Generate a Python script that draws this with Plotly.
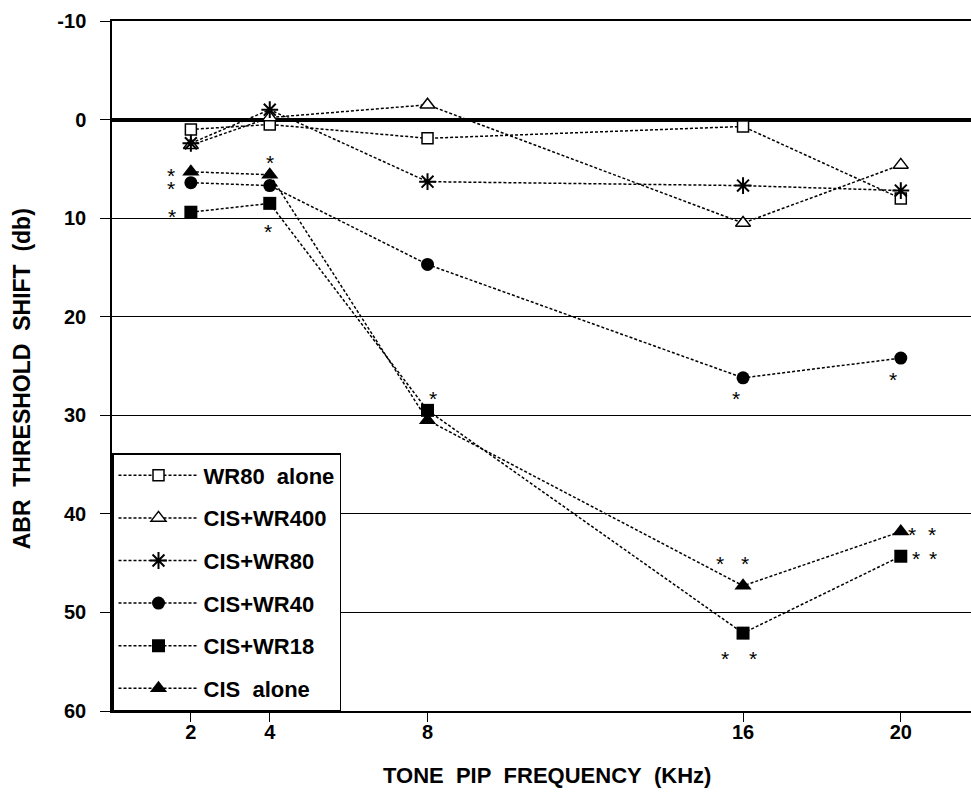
import plotly.graph_objects as go

# ---------------- data ----------------
freq_khz = [2, 4, 8, 16, 20]

wr80_alone = [1.0, 0.5, 1.9, 0.7, 8.0]
cis_wr400 = [2.6, -0.2, -1.5, 10.5, 4.6]
cis_wr80 = [2.4, -1.0, 6.3, 6.7, 7.2]
cis_wr40 = [6.4, 6.7, 14.7, 26.2, 24.2]
cis_wr18 = [9.4, 8.5, 29.5, 52.1, 44.3]
cis_alone = [5.3, 5.6, 30.5, 47.3, 41.8]

series_names = ["WR80\u00a0\u00a0alone", "CIS+WR400", "CIS+WR80",
                "CIS+WR40", "CIS+WR18", "CIS\u00a0\u00a0alone"]

x_tick_vals = [2, 4, 8, 16, 20]
x_tick_text = ["2", "4", "8", "16", "20"]
y_tick_vals = [-10, 0, 10, 20, 30, 40, 50, 60]
y_tick_text = ["-10", "0", "10", "20", "30", "40", "50", "60"]

x_title = "TONE\u00a0\u00a0PIP\u00a0\u00a0FREQUENCY\u00a0\u00a0(KHz)"
y_title = "ABR\u00a0\u00a0THRESHOLD\u00a0\u00a0SHIFT\u00a0\u00a0(db)"

# significance asterisks (frequency position, dB position)
sig_x = [1.50, 1.50, 1.53, 4.01, 3.96, 8.13, 15.82, 19.81,
         15.42, 16.05, 15.53, 16.26, 20.28, 20.80, 20.39, 20.82]
sig_y = [5.2, 6.5, 9.3, 3.8, 10.8, 27.8, 27.8, 25.9,
         44.5, 44.5, 54.2, 54.2, 41.6, 41.6, 44.0, 44.0]

# ---------------- styling ----------------
FONT = "Liberation Sans, Arial, Helvetica, sans-serif"
LINE = dict(color="black", width=1.5, dash="3px,2px")

marker_styles = [
    dict(symbol="square", size=11, color="white", line=dict(color="black", width=1.5)),
    dict(symbol="triangle-up", size=13, color="white", line=dict(color="black", width=1.5)),
    dict(symbol="asterisk-open", size=14, color="black", line=dict(color="black", width=2)),
    dict(symbol="circle", size=13, color="black", line=dict(color="black", width=0)),
    dict(symbol="square", size=13, color="black", line=dict(color="black", width=0)),
    dict(symbol="triangle-up", size=15, color="black", line=dict(color="black", width=0)),
]

all_series = [wr80_alone, cis_wr400, cis_wr80, cis_wr40, cis_wr18, cis_alone]

fig = go.Figure()
for name, vals, mk in zip(series_names, all_series, marker_styles):
    fig.add_trace(go.Scatter(
        x=freq_khz, y=vals, name=name, legendgroup=name,
        mode="lines+markers", line=LINE, marker=mk,
    ))

for sx, sy in zip(sig_x, sig_y):
    fig.add_annotation(x=sx, y=sy, text="*", showarrow=False,
                       font=dict(family=FONT, size=21, color="black"),
                       xanchor="center", yanchor="middle", yshift=-5)

# axis titles
fig.add_annotation(xref="paper", yref="paper", x=0.5064, y=0, yshift=-64,
                   text=x_title, showarrow=False,
                   xanchor="center", yanchor="middle",
                   font=dict(family=FONT, size=22, weight="bold", color="black"))
fig.add_annotation(xref="paper", yref="paper", x=0, xshift=-90, y=0.4807,
                   text=y_title, showarrow=False, textangle=-90,
                   xanchor="center", yanchor="middle",
                   font=dict(family=FONT, size=23, weight="bold", color="black"))

fig.update_layout(
    width=971, height=809,
    margin=dict(l=112, r=0, t=21, b=98),
    paper_bgcolor="white", plot_bgcolor="white",
    font=dict(family=FONT, color="black"),
    showlegend=True,
    legend=dict(
        x=0, y=0, xanchor="left", yanchor="bottom",
        bgcolor="white", bordercolor="black", borderwidth=1.5,
        font=dict(family=FONT, size=22, weight="bold", color="black"),
        tracegroupgap=11, itemwidth=80, traceorder="grouped",
        entrywidth=165, entrywidthmode="pixels",
    ),
    xaxis=dict(
        range=[0, 21.78], showgrid=False, zeroline=False,
        showline=True, linecolor="black", linewidth=1.5, mirror=True,
        ticks="outside", ticklen=9, tickwidth=1.2, tickcolor="black",
        tickvals=x_tick_vals, ticktext=x_tick_text,
        tickfont=dict(family=FONT, size=20, weight="bold"),
        ticklabelstandoff=-7,
    ),
    yaxis=dict(
        range=[60, -10], showgrid=True, gridcolor="black", gridwidth=1.2,
        zeroline=True, zerolinecolor="black", zerolinewidth=4,
        showline=True, linecolor="black", linewidth=1.5,
        ticks="outside", ticklen=10, tickwidth=1.2, tickcolor="black",
        tickvals=y_tick_vals, ticktext=y_tick_text,
        tickfont=dict(family=FONT, size=20, weight="bold"),
        ticklabelstandoff=10,
    ),
)

fig.write_html("out.html")
